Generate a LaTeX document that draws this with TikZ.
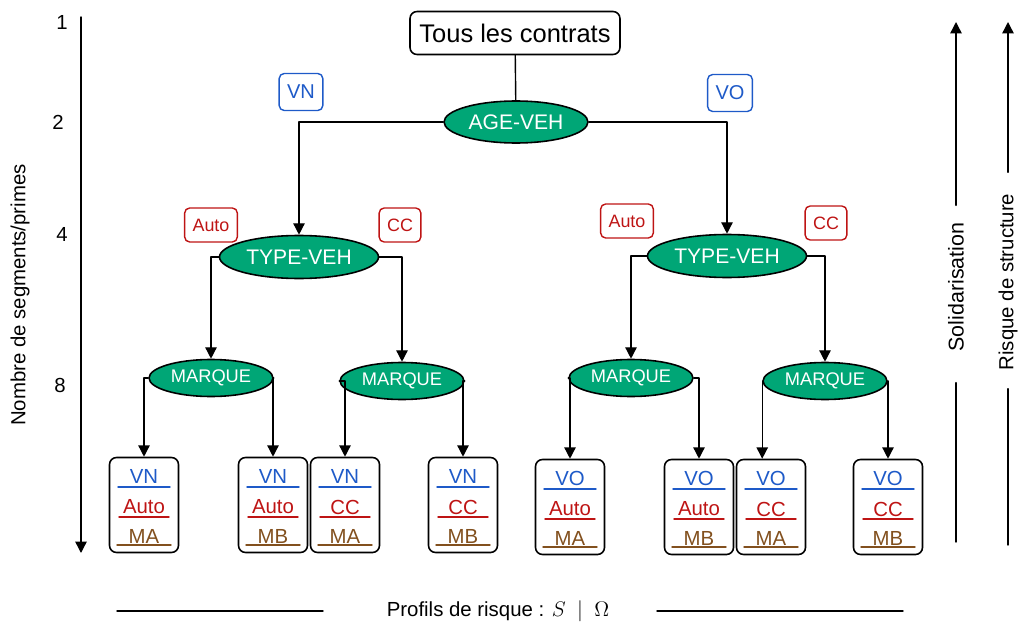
\documentclass[tikz,border=0pt]{standalone}
\usepackage{fontspec}
\setmainfont{Liberation Sans}
\usepackage{pgf,tikz}
\usetikzlibrary{arrows.meta}
\usetikzlibrary{shapes.geometric}

\definecolor{vert}{RGB}{0,166,118}
\definecolor{bleu}{RGB}{30,90,200}
\definecolor{rouge}{RGB}{190,20,20}
\definecolor{brun}{RGB}{130,80,30}

% feuille: nom, x, y, age, type, marque
\newcommand{\feuille}[6]{%
\node[leaf] (#1) at (#2,#3) {};
\node[txt,text=bleu] (#1a) at (#2,#3-29) {#4};
\draw[bleu,line width=0.8pt] (#2-26,#3-18)-- (#2+26,#3-18);
\node[txt,text=rouge] (#1b) at (#2,#3+2) {#5};
\draw[rouge,line width=0.8pt] (#2-25,#3+12)-- (#2+25,#3+12);
\node[txt,text=brun] (#1c) at (#2,#3+31) {#6};
\draw[brun,line width=0.8pt] (#2-27,#3+40)-- (#2+27,#3+40);
}

\begin{document}
\begin{tikzpicture}[line cap=round,line join=round,>={Triangle[length=6.5pt,width=6.5pt]},x=0.02cm,y=-0.02cm,
  every node/.style={inner sep=0pt},
  lien/.style={line width=0.8pt},
  racine/.style={draw,line width=0.9pt,rounded corners=0.14cm,minimum width=4.2cm,minimum height=0.86cm,font=\fontsize{14.5}{16}\selectfont},
  var/.style={ellipse,draw,line width=0.9pt,fill=vert,text=white,minimum width=#1},
  label/.style={draw=#1,text=#1,line width=0.8pt,rounded corners=0.1cm,inner xsep=4.5pt},
  leaf/.style={draw,line width=0.9pt,rounded corners=0.14cm,minimum width=1.38cm,minimum height=1.9cm},
  txt/.style={font=\fontsize{11.6}{13}\selectfont},
  axe/.style={font=\fontsize{11.6}{13}\selectfont}]
\useasboundingbox (0,0) rectangle (1018,625);
% racine et variables
\node[racine] (tous) at (515,33) {Tous les contrats};
\node[var=2.88cm,minimum height=0.84cm,font=\fontsize{12}{13}\selectfont] (age) at (516,122) {AGE-VEH};
\node[var=3.18cm,minimum height=0.86cm,font=\fontsize{12}{13}\selectfont] (typeg) at (299,257) {TYPE-VEH};
\node[var=3.18cm,minimum height=0.86cm,font=\fontsize{12}{13}\selectfont] (typed) at (727,256) {TYPE-VEH};
\node[var=2.48cm,minimum height=0.74cm,font=\fontsize{10.4}{12}\selectfont] (marqgg) at (211,378) {MARQUE};
\node[var=2.48cm,minimum height=0.74cm,font=\fontsize{10.4}{12}\selectfont] (marqgd) at (402,381) {MARQUE};
\node[var=2.48cm,minimum height=0.74cm,font=\fontsize{10.4}{12}\selectfont] (marqdg) at (631,378) {MARQUE};
\node[var=2.48cm,minimum height=0.74cm,font=\fontsize{10.4}{12}\selectfont] (marqdd) at (825,381) {MARQUE};
% etiquettes des branches
\node[label=bleu,minimum height=0.74cm,font=\fontsize{11.4}{13}\selectfont] (vn) at (301,92) {VN};
\node[label=bleu,minimum height=0.74cm,font=\fontsize{11.4}{13}\selectfont] (vo) at (730,93) {VO};
\node[label=rouge,minimum height=0.68cm,font=\fontsize{10.2}{12}\selectfont] (autog) at (211,225) {Auto};
\node[label=rouge,minimum height=0.68cm,font=\fontsize{10.2}{12}\selectfont] (ccg) at (400,225) {CC};
\node[label=rouge,minimum height=0.68cm,font=\fontsize{10.2}{12}\selectfont] (autod) at (627,221) {Auto};
\node[label=rouge,minimum height=0.68cm,font=\fontsize{10.2}{12}\selectfont] (ccd) at (826,223) {CC};
% profils
\feuille{f1}{144}{505}{VN}{Auto}{MA}
\feuille{f2}{273}{505}{VN}{Auto}{MB}
\feuille{f3}{345}{505}{VN}{CC}{MA}
\feuille{f4}{463}{505}{VN}{CC}{MB}
\feuille{f5}{570}{507}{VO}{Auto}{MA}
\feuille{f6}{699}{507}{VO}{Auto}{MB}
\feuille{f7}{771}{507}{VO}{CC}{MA}
\feuille{f8}{888}{507}{VO}{CC}{MB}
% liens
\draw [lien] (tous)-- (age);
\draw [lien,->] (age.west) -| (typeg.north);
\draw [lien,->] (age.east) -| (typed.north);
\draw [lien,->] (typeg.west) -| (marqgg.north);
\draw [lien,->] (typeg.east) -| (marqgd.north);
\draw [lien,->] (typed.west) -| (marqdg.north);
\draw [lien,->] (typed.east) -| (marqdd.north);
\draw [lien,->] (marqgg.west) -| (f1.north);
\draw [lien,->] (marqgg.east) -| (f2.north);
\draw [lien,->] (marqgd.west) -| (f3.north);
\draw [lien,->] (marqgd.east) -| (f4.north);
\draw [lien,->] (marqdg.west) -| (f5.north);
\draw [lien,->] (marqdg.east) -| (f6.north);
\draw [lien,->] (marqdd.west) -- (marqdd.west |- f7.north);
\draw [lien,->] (marqdd.east) -| (f8.north);
% axe de gauche
\coordinate (hautg) at (81,17);
\coordinate (basg) at (81,553);
\draw [lien,->] (hautg)-- (basg);
\node[axe] (n1) at (62,22) {1};
\node[axe] (n2) at (58,122) {2};
\node[axe] (n4) at (62,234) {4};
\node[axe] (n8) at (60,385) {8};
\node[axe,rotate=90] (nombre) at (20,295) {Nombre de segments/primes};
% axes de droite
\node[axe,rotate=90,font=\fontsize{12.2}{14}\selectfont] (solid) at (956,287) {Solidarisation};
\coordinate (solhaut) at (956,22);
\coordinate (solbas) at (956,542);
\draw [lien,->] (solid.east)++(0,-17) -- (solhaut);
\draw [lien] (solid.west)++(0,31) -- (solbas);
\node[axe,rotate=90] (risque) at (1008,282) {Risque de structure};
\coordinate (rishaut) at (1008,22);
\coordinate (risbas) at (1008,545);
\draw [lien,->] (risque.east)++(0,-21) -- (rishaut);
\draw [lien] (risque.west)++(0,18) -- (risbas);
% axe du bas
\node[axe] (profils) at (498,611) {Profils de risque : $S$ \ $|$ \ $\Omega$};
\coordinate (bg) at (117,611);
\coordinate (bd) at (903,611);
\draw [lien] (bg)-- (323,611);
\draw [lien] (657,611)-- (bd);
\end{tikzpicture}
\end{document}
